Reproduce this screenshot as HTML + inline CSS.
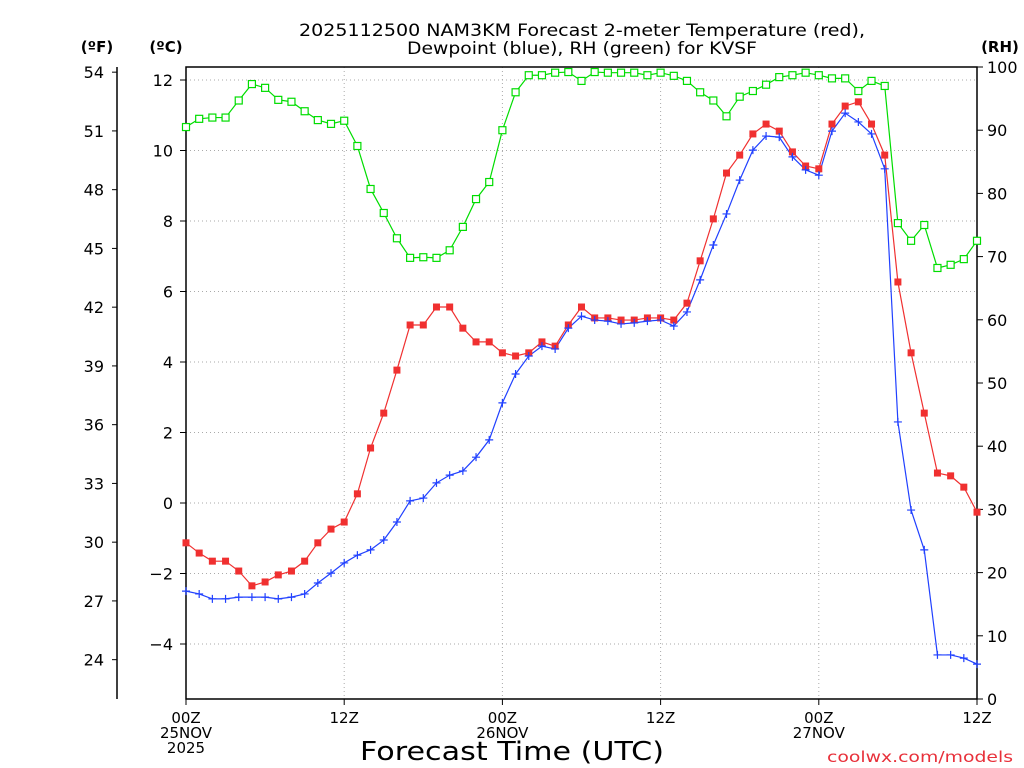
<!DOCTYPE html>
<html><head><meta charset="utf-8">
<style>
body{margin:0;background:#fff;}
svg{display:block;font-family:"DejaVu Sans","Liberation Sans",sans-serif;}
</style></head>
<body>
<svg id="chart" width="1024" height="768" viewBox="0 0 1024 768" xmlns="http://www.w3.org/2000/svg">
<rect width="1024" height="768" fill="#fff"/>
<text x="582" y="36" font-size="17" text-anchor="middle" textLength="566" lengthAdjust="spacingAndGlyphs">2025112500 NAM3KM Forecast 2-meter Temperature (red),</text>
<text x="582" y="54" font-size="17" text-anchor="middle" textLength="350" lengthAdjust="spacingAndGlyphs">Dewpoint (blue), RH (green) for KVSF</text>
<text x="97" y="52" font-size="15" font-weight="bold" text-anchor="middle">(ºF)</text>
<text x="166" y="52" font-size="15" font-weight="bold" text-anchor="middle">(ºC)</text>
<text x="1000" y="52" font-size="15" font-weight="bold" text-anchor="middle">(RH)</text>
<g id="grid"></g>
<g id="axes"></g>
<g id="series"></g>
<text x="512" y="760" font-size="26" text-anchor="middle" textLength="304" lengthAdjust="spacingAndGlyphs">Forecast Time (UTC)</text>
<text x="1013" y="762" font-size="15" fill="#e8303a" text-anchor="end" textLength="186" lengthAdjust="spacingAndGlyphs">coolwx.com/models</text>
</svg>
<script>
const tempC=[-1.13,-1.42,-1.65,-1.65,-1.93,-2.35,-2.24,-2.04,-1.93,-1.65,-1.13,-0.74,-0.54,0.26,1.56,2.55,3.77,5.05,5.05,5.56,5.56,4.96,4.57,4.57,4.26,4.17,4.26,4.57,4.45,5.05,5.56,5.25,5.25,5.19,5.19,5.25,5.25,5.19,5.67,6.87,8.06,9.36,9.87,10.47,10.75,10.55,9.96,9.56,9.48,10.75,11.26,11.38,10.75,9.87,6.27,4.26,2.55,0.85,0.77,0.45,-0.26];
const dewC=[-2.50,-2.58,-2.72,-2.72,-2.67,-2.67,-2.67,-2.72,-2.67,-2.58,-2.27,-1.99,-1.70,-1.48,-1.33,-1.05,-0.54,0.06,0.14,0.57,0.79,0.91,1.30,1.79,2.84,3.66,4.17,4.45,4.37,4.96,5.30,5.19,5.16,5.08,5.11,5.16,5.19,5.02,5.42,6.33,7.32,8.20,9.16,10.01,10.41,10.38,9.82,9.45,9.30,10.55,11.06,10.81,10.47,9.48,2.30,-0.20,-1.33,-4.31,-4.31,-4.40,-4.57];
const rh=[90.5,91.8,92.0,92.0,94.7,97.3,96.7,94.8,94.5,93.0,91.6,91.0,91.5,87.5,80.7,76.9,72.9,69.8,69.9,69.8,71.0,74.7,79.1,81.8,90.0,96.0,98.7,98.7,99.1,99.2,97.8,99.2,99.1,99.1,99.1,98.7,99.1,98.6,97.8,96.0,94.7,92.2,95.3,96.2,97.2,98.4,98.7,99.1,98.7,98.2,98.2,96.2,97.8,97.0,75.3,72.5,75.0,68.2,68.7,69.6,72.5];
const cTicks=[-4,-2,0,2,4,6,8,10,12];
const fTicks=[24,27,30,33,36,39,42,45,48,51,54];
const rhTicks=[0,10,20,30,40,50,60,70,80,90,100];
const xTickHours=[0,12,24,36,48,60];
const xTickLabels=[["00Z","25NOV","2025"],["12Z"],["00Z","26NOV"],["12Z"],["00Z","27NOV"],["12Z"]];

const X0=186,X1=977,Y0=67,Y1=699;
const xs=h=>X0+(X1-X0)*h/60;
const yC=c=>503-35.25*c;
const yF=f=>yC((f-32)*5/9);
const yRH=r=>Y1-(Y1-Y0)*r/100;
const NS="http://www.w3.org/2000/svg";
function mk(parent,tag,attrs){const e=document.createElementNS(NS,tag);for(const k in attrs)e.setAttribute(k,attrs[k]);document.getElementById(parent).appendChild(e);return e;}

cTicks.forEach(c=>{
  const g=mk('grid','line',{x1:X0,x2:X1,y1:yC(c),y2:yC(c),stroke:'#aaa','stroke-dasharray':'1,3'});
  
  
  const t=mk('axes','text',{x:173,y:yC(c)+6,'font-size':16,'text-anchor':'end'});
  t.textContent=(c<0?'\u2212'+(-c):c);
  
  
});
xTickHours.forEach((h,i)=>{
  if(h>0&&h<60){const g=mk('grid','line',{x1:xs(h),x2:xs(h),y1:Y0,y2:Y1,stroke:'#aaa','stroke-dasharray':'1,3'});
  
  }
  const tk=mk('axes','line',{x1:xs(h),x2:xs(h),y1:Y1,y2:Y1+6,stroke:'#000'});
  
  
  xTickLabels[i].forEach((s,j)=>{
    const t=mk('axes','text',{x:xs(h),y:723+j*15,'font-size':15,'text-anchor':'middle'});
    t.textContent=s;
    
    
  });
});
fTicks.forEach(f=>{
  const tk=mk('axes','line',{x1:112,x2:117,y1:yF(f),y2:yF(f),stroke:'#000'});
  
  
  const t=mk('axes','text',{x:104,y:yF(f)+6,'font-size':16,'text-anchor':'end'});
  t.textContent=f;
  
  
});
rhTicks.forEach(r=>{
  const tk=mk('axes','line',{x1:X1,x2:X1+6,y1:yRH(r),y2:yRH(r),stroke:'#000'});
  
  
  const t=mk('axes','text',{x:987,y:yRH(r)+6,'font-size':16,'text-anchor':'start'});
  t.textContent=r;
  
  
});
cTicks.forEach(c=>{const tk=mk('axes','line',{x1:X0-6,x2:X0,y1:yC(c),y2:yC(c),stroke:'#000'});
  
  });
const fa=mk('axes','line',{x1:117,x2:117,y1:Y0,y2:Y1,stroke:'#000','stroke-width':1.5});


const box=mk('axes','rect',{x:X0,y:Y0,width:X1-X0,height:Y1-Y0,fill:'none',stroke:'#000','stroke-width':1.5});



function line(vals,yf,color,name){
  const p=mk('series','polyline',{points:vals.map((v,i)=>xs(i)+','+yf(v)).join(' '),fill:'none',stroke:color,'stroke-width':1.2});
  
  
}
line(rh,yRH,'#00dd00','rh-line');
line(tempC,yC,'#f03030','temperature-line');
line(dewC,yC,'#2040ff','dewpoint-line');
rh.forEach((v,i)=>{const m=mk('series','rect',{x:xs(i)-3.5,y:yRH(v)-3.5,width:7,height:7,fill:'#fff',stroke:'#00dd00','stroke-width':1.2});
  
  });
tempC.forEach((v,i)=>{const m=mk('series','rect',{x:xs(i)-3.5,y:yC(v)-3.5,width:7,height:7,fill:'#f03030'});
  
  });
dewC.forEach((v,i)=>{const x=xs(i),y=yC(v);
  const m=mk('series','path',{d:`M${x-4},${y}H${x+4}M${x},${y-4}V${y+4}`,stroke:'#2040ff','stroke-width':1.2});
  
  });
</script>
</body></html>
